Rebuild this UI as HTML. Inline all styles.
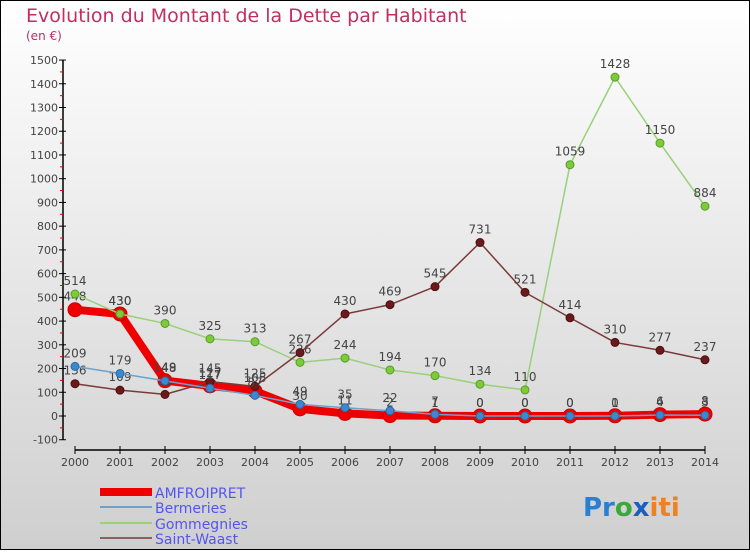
<!DOCTYPE html>
<html><head><meta charset="utf-8"><style>
body{margin:0;}
#c{width:750px;height:550px;position:relative;font-family:"DejaVu Sans","Liberation Sans",sans-serif;}
</style></head><body>
<div id="c">
<svg id="s" width="750" height="550" xmlns="http://www.w3.org/2000/svg">
<defs><linearGradient id="bg" x1="0" y1="0" x2="0" y2="1"><stop offset="0" stop-color="#ffffff"/><stop offset="1" stop-color="#cfcfcf"/></linearGradient></defs>
<rect x="0.5" y="0.5" width="749" height="549" fill="url(#bg)" stroke="#000"/>
<text x="26" y="22" font-size="19" fill="#c0305e">Evolution du Montant de la Dette par Habitant</text>
<text x="26" y="40" font-size="12" fill="#c0305e">(en €)</text>
<g id="axes"></g><g id="series"></g>
<g>
<line x1="100" y1="492" x2="152" y2="492" stroke="#ee0000" stroke-width="8"/>
<text x="155" y="498" font-size="14" fill="#5555ee">AMFROIPRET</text>
<line x1="100" y1="507" x2="152" y2="507" stroke="#6fa0c8" stroke-width="2"/>
<text x="155" y="513" font-size="14" fill="#5555ee">Bermeries</text>
<line x1="100" y1="523" x2="152" y2="523" stroke="#99d07a" stroke-width="2"/>
<text x="155" y="529" font-size="14" fill="#5555ee">Gommegnies</text>
<line x1="100" y1="538" x2="152" y2="538" stroke="#8a6060" stroke-width="2"/>
<text x="155" y="544" font-size="14" fill="#5555ee">Saint-Waast</text>
</g>
<text x="583" y="516" font-size="26" font-weight="bold"><tspan fill="#2a7fd0">Pr</tspan><tspan fill="#3aa83a">o</tspan><tspan fill="#1a5fc0">x</tspan><tspan fill="#f08020">iti</tspan></text>
</svg></div>
<script>
const years=[2000,2001,2002,2003,2004,2005,2006,2007,2008,2009,2010,2011,2012,2013,2014];
const yTicks=[-100,0,100,200,300,400,500,600,700,800,900,1000,1100,1200,1300,1400,1500];
const amfroipret=[448,430,149,127,105,30,11,2,1,0,0,0,1,6,8];
const bermeries=[209,179,148,117,87,49,35,22,7,0,0,0,0,4,3];
const gommegnies=[514,430,390,325,313,226,244,194,170,134,110,1059,1428,1150,884];
const saintWaast=[136,109,91,145,125,267,430,469,545,731,521,414,310,277,237];
const NS="http://www.w3.org/2000/svg";
const X=i=>75+i*45, Y=v=>416-v*0.2373;
function mk(t,a,p){const e=document.createElementNS(NS,t);for(const k in a)e.setAttribute(k,a[k]);p.appendChild(e);return e;}
const ax=document.getElementById('axes'), sg=document.getElementById('series');
let l=mk('line',{x1:63,y1:Y(1500),x2:63,y2:Y(-100),stroke:'#000','stroke-width':1.5},ax);


l=mk('line',{x1:X(0),y1:450,x2:X(14),y2:450,stroke:'#000','stroke-width':1.5},ax);


yTicks.forEach((v,i)=>{
  mk('line',{x1:59,y1:Y(v),x2:66,y2:Y(v),stroke:'#000'},ax);
  if(i<yTicks.length-1) mk('line',{x1:60,y1:Y(v+50),x2:63,y2:Y(v+50),stroke:'#e00'},ax);
  const t=mk('text',{x:58,y:Y(v)+4,'font-size':11,fill:'#444','text-anchor':'end'},ax);
  t.textContent=v;
  
  
});
years.forEach((y,i)=>{
  mk('line',{x1:X(i),y1:446,x2:X(i),y2:454,stroke:'#000'},ax);
  const t=mk('text',{x:X(i),y:466,'font-size':11,fill:'#444','text-anchor':'middle'},ax);
  t.textContent=y;
  
  
});
function series(d,name,col,w,r,dot,ring){
  const g=mk('g',{},sg);
  
  
  mk('polyline',{points:d.map((v,i)=>X(i)+','+Y(v)).join(' '),fill:'none',stroke:col,'stroke-width':w,'stroke-linejoin':'round'},g);
  d.forEach((v,i)=>{
    const c=mk('circle',{cx:X(i),cy:Y(v),r:r,fill:dot,stroke:ring,'stroke-width':1},g);
    
    
    const t=mk('text',{x:X(i),y:Y(v)-9,'font-size':12,fill:'#444','text-anchor':'middle'},g);
    t.textContent=v;
    
    
  });
}
series(amfroipret,'amfroipret','#ee0000',8,7,'#ee0000','#c00');
series(gommegnies,'gommegnies','#99d07a',1.5,4,'#7ccc3a','#5a9a2a');
series(saintWaast,'saint-waast','#7a3a3a',1.5,4,'#6a1a1a','#4a1010');
series(bermeries,'bermeries','#6fa0c8',1.5,4,'#3a8ad0','#2a6aa0');
</script>
</body></html>
